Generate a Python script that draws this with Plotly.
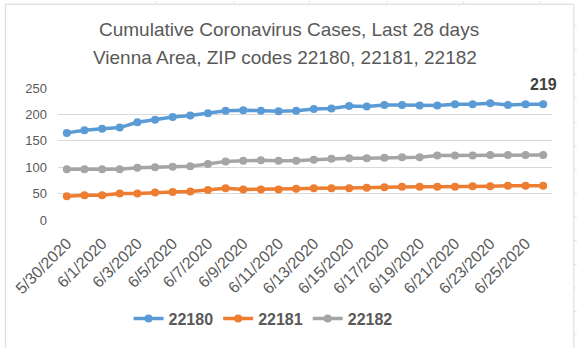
import plotly.graph_objects as go

dates = ["5/30/2020", "5/31/2020", "6/1/2020", "6/2/2020", "6/3/2020", "6/4/2020",
         "6/5/2020", "6/6/2020", "6/7/2020", "6/8/2020", "6/9/2020", "6/10/2020",
         "6/11/2020", "6/12/2020", "6/13/2020", "6/14/2020", "6/15/2020", "6/16/2020",
         "6/17/2020", "6/18/2020", "6/19/2020", "6/20/2020", "6/21/2020", "6/22/2020",
         "6/23/2020", "6/24/2020", "6/25/2020", "6/26/2020"]
tick_labels = ["5/30/2020", "6/1/2020", "6/3/2020", "6/5/2020", "6/7/2020", "6/9/2020",
               "6/11/2020", "6/13/2020", "6/15/2020", "6/17/2020", "6/19/2020",
               "6/21/2020", "6/23/2020", "6/25/2020"]
zip_22180 = [165, 170, 173, 175, 185, 190, 195, 198, 202, 207, 208, 207, 206, 207,
             210, 211, 216, 215, 218, 218, 217, 217, 219, 219, 221, 218, 219, 219]
zip_22181 = [45, 47, 47, 50, 50, 52, 53, 54, 57, 60, 58, 58, 58, 59,
             60, 60, 60, 61, 62, 63, 63, 63, 63, 64, 64, 65, 65, 65]
zip_22182 = [96, 96, 96, 96, 99, 100, 101, 102, 106, 111, 112, 113, 112, 112,
             114, 116, 117, 117, 118, 119, 119, 122, 122, 122, 123, 123, 123, 123]
y_ticks = [0, 50, 100, 150, 200, 250]

series = [("22180", zip_22180, "#5B9BD5"),
          ("22181", zip_22181, "#ED7D31"),
          ("22182", zip_22182, "#A5A5A5")]

W, H = 577, 348
L, R, T, B = 55, 25, 88, 126
PW, PH = W - L - R, H - T - B


def px_x(p):
    return (p - L) / PW


def px_y(p):
    return (H - B - p) / PH


FONT = "Liberation Sans, Arial, sans-serif"
TXT = "#595959"

fig = go.Figure()
for name, vals, color in series:
    fig.add_trace(go.Scatter(
        x=dates, y=vals, name=name, mode="lines+markers",
        line=dict(color=color, width=3.5),
        marker=dict(color=color, size=8),
    ))

shapes = [dict(type="rect", xref="paper", yref="paper",
               x0=px_x(2), x1=px_x(574), y0=px_y(400), y1=px_y(3),
               line=dict(color="#D9D9D9", width=1), layer="below")]
for xv in [154, 232, 308, 386, 463, 540]:
    shapes.append(dict(type="line", xref="paper", yref="paper",
                       x0=px_x(xv), x1=px_x(xv), y0=px_y(0), y1=px_y(3),
                       line=dict(color="#E0E0E0", width=1)))
for yv in [25, 49, 74, 98, 123, 147, 171, 195, 219, 243, 267, 291, 315, 338]:
    shapes.append(dict(type="line", xref="paper", yref="paper",
                       x0=px_x(574), x1=px_x(577), y0=px_y(yv), y1=px_y(yv),
                       line=dict(color="#E0E0E0", width=1)))

annotations = [
    dict(text="Cumulative Coronavirus Cases, Last 28 days", xref="paper", yref="paper",
         x=px_x(287), y=px_y(29), xanchor="center", yanchor="middle", showarrow=False,
         font=dict(family=FONT, size=19, color=TXT)),
    dict(text="Vienna Area, ZIP codes 22180, 22181, 22182", xref="paper", yref="paper",
         x=px_x(283), y=px_y(57), xanchor="center", yanchor="middle", showarrow=False,
         font=dict(family=FONT, size=19, color=TXT)),
    dict(text="<b>%d</b>" % zip_22180[-1], x=dates[-1], y=zip_22180[-1],
         xref="x", yref="y", showarrow=False, yshift=20,
         font=dict(family=FONT, size=16, color="#404040")),
]

fig.update_layout(
    width=W, height=H,
    margin=dict(l=L, r=R, t=T, b=B),
    paper_bgcolor="white", plot_bgcolor="white",
    font=dict(family=FONT, color=TXT),
    showlegend=True,
    legend=dict(orientation="h", x=px_x(126), y=px_y(322), xanchor="left", yanchor="middle",
                font=dict(family=FONT, size=16, color=TXT, weight="bold"),
                bgcolor="rgba(0,0,0,0)", itemwidth=30),
    xaxis=dict(type="category", categoryorder="array", categoryarray=dates,
               tickmode="array", tickvals=tick_labels, ticktext=tick_labels,
               tickangle=-45, tickfont=dict(family=FONT, size=16, color=TXT),
               showgrid=False, showline=False, zeroline=False, ticks="",
               ticklabelstandoff=10,
               range=[-0.5, len(dates) - 0.5]),
    yaxis=dict(range=[0, 250], tickmode="array", tickvals=y_ticks,
               tickfont=dict(family=FONT, size=13, color=TXT),
               showgrid=True, gridcolor="#D9D9D9", gridwidth=1,
               zeroline=False, showline=False, ticks="", ticklabelstandoff=10),
    shapes=shapes,
    annotations=annotations,
)

fig.write_html("out.html")
